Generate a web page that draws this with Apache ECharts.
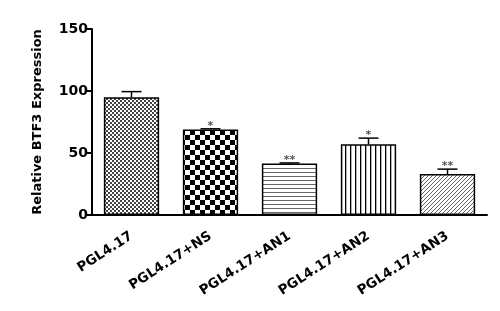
<!DOCTYPE html>
<html>
<head>
<meta charset="utf-8">
<script src="https://cdn.jsdelivr.net/npm/echarts@6/dist/echarts.min.js"></script>
<style>
  html, body { margin: 0; padding: 0; background: #fff; }
  #chart { width: 500px; height: 311px; }
</style>
</head>
<body>
<div id="chart"></div>
<script>
// data
var groups = ['PGL4.17', 'PGL4.17+NS', 'PGL4.17+AN1', 'PGL4.17+AN2', 'PGL4.17+AN3'];
var means = [95, 69, 41.5, 57, 33];
var errors = [4.5, 0.5, 0.5, 5, 4];
var stars = ['', '*', '**', '*', '**'];
var yTicks = [0, 50, 100, 150];

// fill patterns for the bars
function makePattern(kind) {
  var c = document.createElement('canvas');
  var ctx = c.getContext('2d');
  if (kind === 'fine') {
    c.width = 4; c.height = 4;
    ctx.fillStyle = '#fff'; ctx.fillRect(0, 0, 4, 4);
    ctx.fillStyle = '#444';
    ctx.fillRect(0, 0, 2, 2); ctx.fillRect(2, 2, 2, 2);
  } else if (kind === 'checker') {
    c.width = 10; c.height = 10;
    ctx.fillStyle = '#fff'; ctx.fillRect(0, 0, 10, 10);
    ctx.fillStyle = '#000';
    ctx.fillRect(0, 0, 5, 5); ctx.fillRect(5, 5, 5, 5);
  } else if (kind === 'hlines') {
    c.width = 4; c.height = 4;
    ctx.fillStyle = '#fff'; ctx.fillRect(0, 0, 4, 4);
    ctx.fillStyle = '#666'; ctx.fillRect(0, 0, 4, 1);
  } else if (kind === 'vlines') {
    c.width = 5; c.height = 5;
    ctx.fillStyle = '#fff'; ctx.fillRect(0, 0, 5, 5);
    ctx.fillStyle = '#000'; ctx.fillRect(0, 0, 1.3, 5);
  } else {
    c.width = 4; c.height = 4;
    ctx.fillStyle = '#fff'; ctx.fillRect(0, 0, 4, 4);
    ctx.strokeStyle = '#666'; ctx.lineWidth = 1;
    ctx.beginPath();
    ctx.moveTo(-1, 5); ctx.lineTo(5, -1);
    ctx.moveTo(-1, 1); ctx.lineTo(1, -1);
    ctx.moveTo(3, 5); ctx.lineTo(5, 3);
    ctx.stroke();
  }
  return { image: c, repeat: 'repeat' };
}
var patterns = ['fine', 'checker', 'hlines', 'vlines', 'diag'].map(makePattern);

var barData = means.map(function (v, i) {
  return { value: v, itemStyle: { color: patterns[i] } };
});
var errData = means.map(function (v, i) { return [i, v, errors[i]]; });

var myChart = echarts.init(document.getElementById('chart'));

var option = {
  animation: false,
  grid: { left: 92, right: 13, top: 29, bottom: 96 },
  xAxis: {
    type: 'category',
    data: groups,
    axisLine: { lineStyle: { color: '#000', width: 2 } },
    axisTick: { alignWithLabel: true, length: 5, lineStyle: { color: '#000', width: 2 } },
    axisLabel: {
      rotate: 33, margin: 20, color: '#000', fontWeight: 'bold',
      fontFamily: 'DejaVu Sans', fontSize: 13.5, interval: 0
    }
  },
  yAxis: {
    type: 'value',
    min: 0, max: 150, interval: 50,
    name: 'Relative BTF3 Expression',
    nameLocation: 'middle',
    nameGap: 48,
    nameTextStyle: { color: '#000', fontWeight: 'bold', fontFamily: 'DejaVu Sans', fontSize: 13 },
    splitLine: { show: false },
    axisLine: { show: true, lineStyle: { color: '#000', width: 2 } },
    axisTick: { show: true, length: 6, lineStyle: { color: '#000', width: 2 } },
    axisLabel: {
      color: '#000', fontWeight: 'bold', fontFamily: 'DejaVu Sans', fontSize: 14, margin: 4,
      formatter: function (v) { return yTicks.indexOf(v) >= 0 ? String(v) : ''; }
    }
  },
  series: [
    {
      type: 'bar',
      data: barData,
      barWidth: '70%',
      itemStyle: { borderColor: '#000', borderWidth: 1.5 }
    },
    {
      type: 'custom',
      data: errData,
      z: 5,
      renderItem: function (params, api) {
        var i = api.value(0), m = api.value(1), e = api.value(2);
        var star = stars[params.dataIndex];
        var top = api.coord([i, m + e]);
        var base = api.coord([i, m]);
        var cap = 10;
        var children = [
          { type: 'line', shape: { x1: top[0], y1: base[1], x2: top[0], y2: top[1] },
            style: { stroke: '#000', lineWidth: 1.5 } },
          { type: 'line', shape: { x1: top[0] - cap, y1: top[1], x2: top[0] + cap, y2: top[1] },
            style: { stroke: '#000', lineWidth: 1.5 } }
        ];
        if (star) {
          children.push({
            type: 'text',
            style: {
              text: star, x: top[0], y: top[1] + 3, align: 'center', verticalAlign: 'bottom',
              fill: '#555', font: 'bold 11px DejaVu Sans'
            }
          });
        }
        return { type: 'group', children: children };
      }
    }
  ]
};

myChart.setOption(option);
</script>
</body>
</html>
